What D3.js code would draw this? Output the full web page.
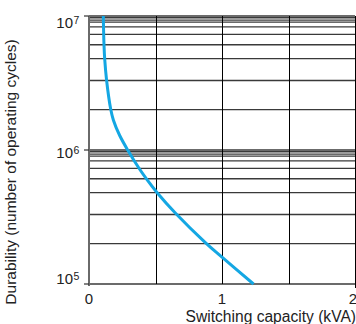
<!DOCTYPE html>
<html>
<head>
<meta charset="utf-8">
<script src="https://cdn.jsdelivr.net/npm/d3@7"></script>
<style>
  html, body { margin: 0; padding: 0; background: #fff; }
  svg { display: block; font-family: "Liberation Sans", Arial, sans-serif; }
</style>
</head>
<body>
<svg id="chart" width="356" height="324"></svg>
<script>
// Durability curve: switching capacity (kVA) vs. number of operating cycles
const capacityKVA = [0.1075, 0.1128, 0.118, 0.132, 0.163, 0.183, 0.229, 0.291, 0.370, 0.432, 0.514, 0.649, 0.879, 0.989, 1.237];
const durabilityCycles = [1.0e7, 6.08e6, 4.78e6, 3.33e6, 2.02e6, 1.675e6, 1.294e6, 1.0e6, 7.46e5, 6.08e5, 4.78e5, 3.39e5, 2.02e5, 1.62e5, 1.0e5];

// Horizontal grid: decade lines plus intermediate lines within each decade
const decadeTicks = [1e5, 1e6, 1e7];
const decadeExponents = ["5", "6", "7"];
const gridMantissas = [9.7, 9.3, 9.0, 8.3, 7.3, 6.1, 4.8, 3.3, 2.0];
const gridDecades = [1e5, 1e6];

// Vertical grid and x tick labels
const xGrid = [0.5, 1, 1.5, 2];
const xTicks = [0, 1, 2];

const svg = d3.select("#chart");

const x = d3.scaleLinear().domain([0, 2]).range([89, 355]);
const y = d3.scaleLog().domain([1e5, 1e7]).range([284, 16]);

const minorValues = [];
gridDecades.forEach(dec => gridMantissas.forEach(m => minorValues.push(m * dec)));

// horizontal gridlines
svg.append("g")
  .selectAll("line")
  .data(minorValues.concat(decadeTicks))
  .join("line")
  .attr("x1", x(0)).attr("x2", x(2))
  .attr("y1", d => y(d)).attr("y2", d => y(d))
  .attr("stroke", "#3a3a3a")
  .attr("stroke-width", 1.3);

// vertical gridlines
svg.append("g")
  .selectAll("line")
  .data(xGrid)
  .join("line")
  .attr("x1", d => Math.round(x(d)) + 0.5).attr("x2", d => Math.round(x(d)) + 0.5)
  .attr("y1", y(1e7)).attr("y2", y(1e5))
  .attr("stroke", "#000")
  .attr("stroke-width", 1);

// left axis line
svg.append("line")
  .attr("x1", x(0)).attr("x2", x(0))
  .attr("y1", y(1e7)).attr("y2", y(1e5) + 2)
  .attr("stroke", "#6a6a6a")
  .attr("stroke-width", 2);

// left ticks at decades
svg.append("g")
  .selectAll("line")
  .data(decadeTicks)
  .join("line")
  .attr("x1", x(0) - 5).attr("x2", x(0))
  .attr("y1", d => y(d)).attr("y2", d => y(d))
  .attr("stroke", "#333")
  .attr("stroke-width", 1.2);

// bottom axis tick at the right end
svg.append("line")
  .attr("x1", Math.round(x(2)) + 0.5).attr("x2", Math.round(x(2)) + 0.5)
  .attr("y1", y(1e5)).attr("y2", y(1e5) + 4)
  .attr("stroke", "#000");

// y tick labels as 10 with superscript exponent
const yLabelOffsets = [0, 8, 12];
svg.append("g")
  .selectAll("text")
  .data(decadeTicks)
  .join("text")
  .attr("x", 73)
  .attr("y", (d, i) => y(d) + yLabelOffsets[i])
  .attr("text-anchor", "end")
  .attr("font-size", 15)
  .attr("fill", "#222")
  .text("10");
svg.append("g")
  .selectAll("text")
  .data(decadeTicks)
  .join("text")
  .attr("x", 73.5)
  .attr("y", (d, i) => y(d) + yLabelOffsets[i] - 4)
  .attr("font-size", 10.5)
  .attr("fill", "#222")
  .text((d, i) => decadeExponents[i]);

// x tick labels
svg.append("g")
  .selectAll("text")
  .data(xTicks)
  .join("text")
  .attr("x", d => x(d) - (d === 2 ? 2 : 0))
  .attr("y", 304)
  .attr("text-anchor", "middle")
  .attr("font-size", 15)
  .attr("fill", "#222")
  .text(d => d);

// axis titles
svg.append("text")
  .attr("x", 356)
  .attr("y", 322)
  .attr("text-anchor", "end")
  .attr("font-size", 15.6)
  .attr("fill", "#222")
  .text("Switching capacity (kVA)");

svg.append("text")
  .attr("transform", "translate(16,172) rotate(-90)")
  .attr("text-anchor", "middle")
  .attr("font-size", 15.5)
  .attr("fill", "#222")
  .text("Durability (number of operating cycles)");

// durability curve
const pts = capacityKVA.map((c, i) => [c, durabilityCycles[i]]);
const line = d3.line()
  .x(d => x(d[0]))
  .y(d => y(d[1]))
  .curve(d3.curveCatmullRom.alpha(0.5));

svg.append("path")
  .datum(pts)
  .attr("d", line)
  .attr("fill", "none")
  .attr("stroke", "#14a7e3")
  .attr("stroke-width", 3)
  .attr("stroke-linecap", "butt");
</script>
</body>
</html>
